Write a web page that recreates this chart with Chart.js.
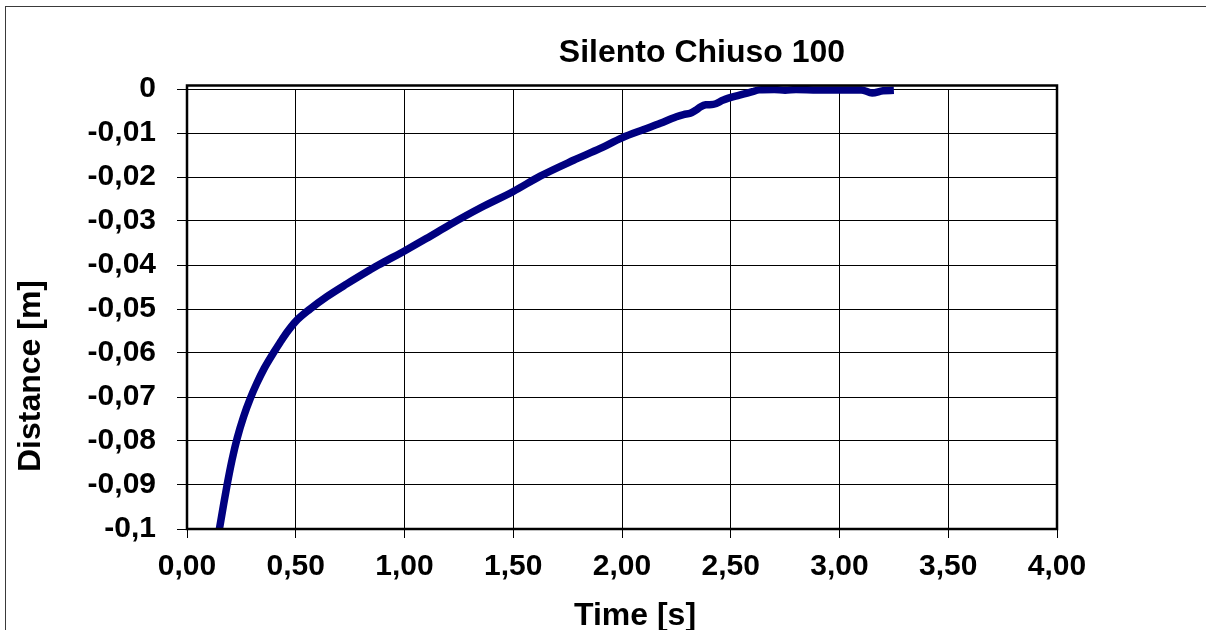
<!DOCTYPE html>
<html>
<head>
<meta charset="utf-8">
<script src="https://cdn.jsdelivr.net/npm/chart.js@4/dist/chart.umd.min.js"></script>
<style>
  html, body { margin: 0; padding: 0; background: #fff; }
  #wrap { position: relative; width: 1206px; height: 630px; overflow: hidden; }
  #frame { position: absolute; left: 5px; top: 6px; width: 1220px; height: 640px; border: 1.5px solid #3a3a3a; box-sizing: border-box; }
  canvas { position: absolute; left: 0; top: 0; }
</style>
</head>
<body>
<div id="wrap">
  <div id="frame"></div>
  <canvas id="c" width="1206" height="630"></canvas>
</div>
<script>
const chartTitle = "Silento Chiuso 100";
const xAxisTitle = "Time [s]";
const yAxisTitle = "Distance [m]";

const timeS = [0.149, 0.167, 0.185, 0.207, 0.231, 0.260, 0.292, 0.320, 0.355, 0.397, 0.428, 0.458,
  0.500, 0.566, 0.643, 0.735, 0.842, 0.880, 1.000, 1.100, 1.210, 1.350,
  1.500, 1.624, 1.777, 1.900, 2.000, 2.100, 2.176, 2.250, 2.283, 2.314, 2.340, 2.360, 2.385,
  2.420, 2.466, 2.540, 2.600, 2.630, 2.700, 2.750, 2.800, 2.900, 3.000, 3.100, 3.150, 3.200, 3.250];
const distanceM = [-0.1000, -0.0948, -0.0898, -0.0843, -0.0793, -0.0745, -0.0702, -0.0670, -0.0635, -0.0600, -0.0576, -0.0554,
  -0.0528, -0.0500, -0.0472, -0.0443, -0.0411, -0.0400, -0.0368, -0.0340, -0.0308, -0.0270,
  -0.0233, -0.0198, -0.0162, -0.0135, -0.0111, -0.0092, -0.0078, -0.0063, -0.0058, -0.0055, -0.0048, -0.0041, -0.0036,
  -0.0035, -0.0025, -0.0014, -0.0006, -0.0002, -0.0001, -0.0003, -0.0001, -0.0002, -0.0002, -0.0002, -0.0009, -0.0004, -0.0003];

const xTickLabels = ["0,00", "0,50", "1,00", "1,50", "2,00", "2,50", "3,00", "3,50", "4,00"];
const yTickLabels = ["-0,1", "-0,09", "-0,08", "-0,07", "-0,06", "-0,05", "-0,04", "-0,03", "-0,02", "-0,01", "0"];

const points = timeS.map((t, i) => ({ x: t, y: distanceM[i] }));
const FONT = "'Liberation Sans', Arial, sans-serif";

const textPlugin = {
  id: 'textPlugin',
  afterDraw(chart) {
    const ctx = chart.ctx;
    const a = chart.chartArea;
    ctx.save();
    // plot frame
    ctx.strokeStyle = '#000';
    ctx.lineWidth = 2.5;
    ctx.strokeRect(a.left, a.top - 3.5, a.right - a.left, a.bottom - a.top + 3.5);
    ctx.fillStyle = '#000';
    ctx.textAlign = 'center';
    ctx.textBaseline = 'alphabetic';
    ctx.font = "bold 32px " + FONT;
    ctx.fillText(chartTitle, 702, 62);
    ctx.fillText(xAxisTitle, 635, 625);
    ctx.translate(40, 376);
    ctx.rotate(-Math.PI / 2);
    ctx.fillText(yAxisTitle, 0, 0);
    ctx.restore();
  }
};

new Chart(document.getElementById('c'), {
  type: 'line',
  data: {
    datasets: [{
      data: points,
      borderColor: '#000080',
      borderWidth: 7.5,
      pointRadius: 0,
      fill: false,
      cubicInterpolationMode: 'monotone',
      borderCapStyle: 'butt',
      borderJoinStyle: 'round',
      clip: { left: 0, top: 6, right: 0, bottom: 0 }
    }]
  },
  options: {
    responsive: false,
    devicePixelRatio: 1,
    animation: false,
    layout: { padding: { top: 89, right: 149, left: 0, bottom: 0 } },
    plugins: { legend: { display: false }, title: { display: false }, tooltip: { enabled: false } },
    scales: {
      x: {
        type: 'linear',
        min: 0, max: 4,
        afterFit(scale) { scale.height = 101; },
        ticks: {
          stepSize: 0.5,
          autoSkip: false,
          maxRotation: 0,
          padding: 11,
          color: '#000',
          font: { family: FONT, size: 30, weight: 'bold' },
          callback: (v, i) => xTickLabels[i]
        },
        grid: { color: '#000', lineWidth: 1, tickLength: 9, tickColor: '#000' },
        border: { display: true, color: '#000', width: 2 }
      },
      y: {
        type: 'linear',
        min: -0.1, max: 0,
        afterFit(scale) { scale.width = 187; },
        ticks: {
          stepSize: 0.01,
          autoSkip: false,
          padding: 21,
          color: '#000',
          font: { family: FONT, size: 30, weight: 'bold' },
          callback: (v, i) => yTickLabels[i]
        },
        grid: { color: '#000', lineWidth: 1, tickLength: 10, tickColor: '#000' },
        border: { display: true, color: '#000', width: 2 }
      }
    }
  },
  plugins: [textPlugin]
});
</script>
</body>
</html>
